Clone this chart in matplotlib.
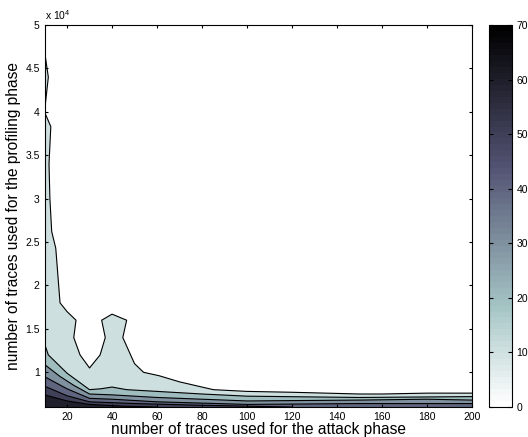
#!/usr/bin/env python3
import matplotlib
matplotlib.use("Agg")
import matplotlib.pyplot as plt
import numpy as np
from matplotlib.cm import ScalarMappable
from matplotlib.colors import Normalize

plt.rcParams["font.family"] = ["Liberation Sans", "DejaVu Sans"]
plt.rcParams["mathtext.fontset"] = "custom"
plt.rcParams["mathtext.rm"] = "Liberation Sans"

# contour levels (success rate) and the traced iso-lines
levels = [10, 20, 30, 40, 50, 60]

attack_10 = [10, 11.7, 10, 12.8, 12, 12.4, 13.2, 15, 16.9, 20, 24, 23, 25.8, 30,
             34.7, 37, 35.4, 40, 46.5, 44.8, 50, 54, 61, 70, 85, 100, 120, 150,
             160, 180, 200]
profil_10 = [47000, 44000, 40000, 38300, 34000, 30000, 26200, 24300, 18000, 17000,
             16000, 14000, 12000, 10500, 12000, 14000, 16000, 16700, 16000, 14000,
             11000, 10000, 9600, 8900, 8000, 7800, 7700, 7500, 7500, 7600, 7600]

attack_20 = [10, 11.7, 20, 30, 35, 40, 46.5, 60, 80, 100, 150, 200]
profil_20 = [13300, 12000, 9900, 8000, 8100, 8300, 8000, 7800, 7500, 7250, 7100, 7200]

attack_30 = [10, 17, 23, 30, 40, 60, 100, 150, 180, 200]
profil_30 = [10900, 9500, 8500, 7500, 7400, 7100, 6700, 6800, 6900, 6800]

attack_40 = [10, 20, 30, 40, 60, 100, 150, 200]
profil_40 = [9500, 8100, 7000, 6900, 6600, 6300, 6400, 6400]

attack_50 = [10, 20, 30, 50, 80, 100, 120]
profil_50 = [8400, 7300, 6600, 6400, 6200, 6100, 6000]

attack_60 = [10, 20, 30, 45, 60]
profil_60 = [7400, 6700, 6300, 6100, 6000]

xticks = [20, 40, 60, 80, 100, 120, 140, 160, 180, 200]
yticks = [10000, 15000, 20000, 25000, 30000, 35000, 40000, 45000, 50000]
yticklabels = ["1", "1.5", "2", "2.5", "3", "3.5", "4", "4.5", "5"]
cbar_ticks = [0, 10, 20, 30, 40, 50, 60, 70]

xmin, xmax = 10, 200
ymin, ymax = 6000, 50000

cmap = plt.get_cmap("bone_r", 64)
norm = Normalize(0, 70)

fig = plt.figure(figsize=(5.28, 4.37), dpi=100)
ax = fig.add_axes([0.0843, 0.0686, 0.8097, 0.8741])
cax = fig.add_axes([0.9267, 0.0686, 0.0424, 0.8741])

curves = [(attack_10, profil_10), (attack_20, profil_20), (attack_30, profil_30),
          (attack_40, profil_40), (attack_50, profil_50), (attack_60, profil_60)]

# fill each band from its iso-line down to the bottom edge
for lev, (xs, ys) in zip(levels, curves):
    xs = list(xs)
    ys = list(ys)
    px = xs + ([xmax] if xs[-1] == xmax else []) + [xmin]
    py = ys + ([ymin] if xs[-1] == xmax else []) + [ymin]
    ax.fill(px, py, color=cmap(norm(lev)), lw=0)

for xs, ys in curves:
    ax.plot(xs, ys, color="black", lw=0.8)

ax.set_xlim(xmin, xmax)
ax.set_ylim(ymin, ymax)
ax.set_xticks(xticks)
ax.set_xticklabels([str(t) for t in xticks])
ax.set_yticks(yticks)
ax.set_yticklabels(yticklabels)
ax.tick_params(direction="in", length=2.5, labelsize=7.5, top=True, right=True)
ax.text(0.0, 1.008, r"x 10$^{4}$", transform=ax.transAxes, fontsize=7.5,
        ha="left", va="bottom")
ax.set_xlabel("number of traces used for the attack phase", fontsize=11.2, labelpad=0)
ax.set_ylabel("number of traces used for the profiling phase", fontsize=11.2, labelpad=3)

cb = fig.colorbar(ScalarMappable(norm=norm, cmap=cmap), cax=cax)
cb.set_ticks(cbar_ticks)
cax.tick_params(direction="in", length=3, labelsize=7.5, left=True, right=True)
cb.outline.set_linewidth(0.8)

fig.savefig("out.png", dpi=100)
